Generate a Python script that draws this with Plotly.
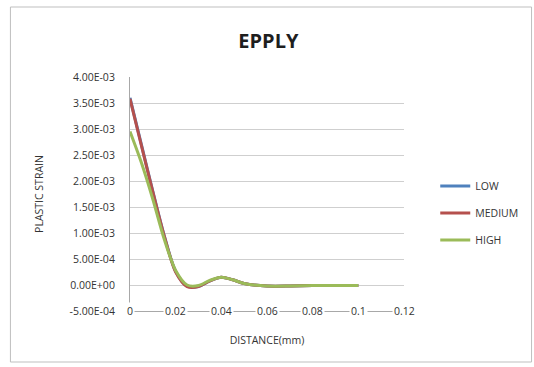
import plotly.graph_objects as go

distance = [0, 0.005, 0.01, 0.015, 0.02, 0.025, 0.03, 0.035, 0.04, 0.045, 0.05, 0.06, 0.07, 0.08, 0.09, 0.1]
low = [3.60e-3, 2.70e-3, 1.80e-3, 9.5e-4, 2.6e-4, -2e-5, -3e-5, 8e-5, 1.5e-4, 1.0e-4, 3e-5, -2e-5, -2e-5, -1e-5, -1e-5, -1e-5]
medium = [3.58e-3, 2.68e-3, 1.79e-3, 9.4e-4, 2.5e-4, -3e-5, -3e-5, 8e-5, 1.5e-4, 1.0e-4, 3e-5, -2e-5, -2e-5, -1e-5, -1e-5, -1e-5]
high = [2.95e-3, 2.35e-3, 1.65e-3, 8.8e-4, 2.8e-4, 0.0, -1e-5, 9e-5, 1.5e-4, 1.0e-4, 3e-5, -2e-5, -2e-5, -1e-5, -1e-5, -1e-5]

series_names = ["LOW", "MEDIUM", "HIGH"]
series_colors = ["#4F81BD", "#B5504D", "#9BBB59"]

ytick_vals = [-5e-4, 0, 5e-4, 1e-3, 1.5e-3, 2e-3, 2.5e-3, 3e-3, 3.5e-3, 4e-3]
ytick_text = ["-5.00E-04", "0.00E+00", "5.00E-04", "1.00E-03", "1.50E-03",
              "2.00E-03", "2.50E-03", "3.00E-03", "3.50E-03", "4.00E-03"]
xtick_vals = [0, 0.02, 0.04, 0.06, 0.08, 0.1, 0.12]
xtick_text = ["0", "0.02", "0.04", "0.06", "0.08", "0.1", "0.12"]

fig = go.Figure()
for name, ys, col in zip(series_names, [low, medium, high], series_colors):
    fig.add_trace(go.Scatter(x=distance, y=ys, mode="lines", name=name,
                             line=dict(color=col, width=3, shape="spline", smoothing=0.8),
                             legendgroup=name))

font_fam = "Open Sans, sans-serif"
txt_col = "#333333"
fsize = 10.5

# x tick labels sit centred on the axis line with a white backing (Excel style)
x_labels = [dict(x=v, y=ytick_vals[0], xref="x", yref="y", text=t, showarrow=False,
                 xanchor="center", yanchor="middle", bgcolor="white", borderpad=1,
                 font=dict(size=fsize, color=txt_col, family=font_fam))
            for v, t in zip(xtick_vals, xtick_text)]

fig.update_layout(
    width=534, height=367,
    margin=dict(l=130, r=129, t=77, b=56),
    paper_bgcolor="white", plot_bgcolor="white",
    font=dict(family=font_fam, size=fsize, color=txt_col),
    title=dict(text="<b>EPPLY</b>", x=0.505, xref="paper", xanchor="center",
               y=1 - 41 / 367, yanchor="middle",
               font=dict(size=20, color="#1E1E1E", family=font_fam)),
    showlegend=True,
    legend=dict(x=1.11, xanchor="left", y=(311 - 213) / 234, yanchor="middle",
                font=dict(size=fsize, color=txt_col), tracegroupgap=8,
                bgcolor="rgba(0,0,0,0)"),
    xaxis=dict(range=[0, 0.12], tickvals=xtick_vals, showticklabels=False,
               showgrid=False, zeroline=False, showline=True, linecolor="#A8A8A8",
               ticks="",
               title=dict(text="DISTANCE(mm)", font=dict(size=fsize, color=txt_col), standoff=25)),
    yaxis=dict(range=[-5e-4, 4e-3], tickvals=ytick_vals, ticktext=ytick_text,
               showgrid=True, gridcolor="#CFCFCF", gridwidth=1, zeroline=False,
               showline=True, linecolor="#A8A8A8", ticks="", ticklabelstandoff=12,
               title=dict(text="PLASTIC STRAIN", font=dict(size=fsize, color=txt_col), standoff=23)),
    annotations=x_labels,
    shapes=[dict(type="rect", xref="paper", yref="paper",
                 x0=-120 / 275, x1=1 + 128 / 275, y0=-51 / 234, y1=1 + 70 / 234,
                 line=dict(color="#BFBFBF", width=1), fillcolor="rgba(0,0,0,0)")],
)

fig.write_html("out.html")
